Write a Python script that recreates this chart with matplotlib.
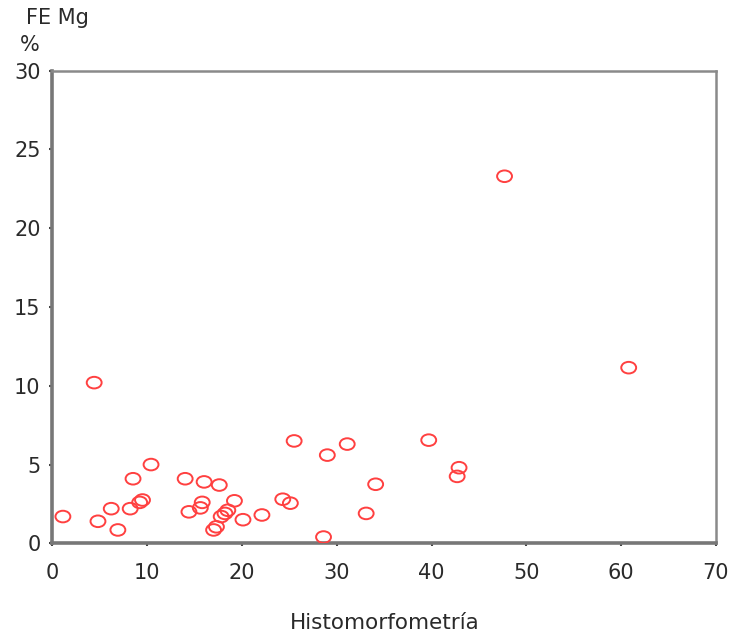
import numpy as np
import matplotlib.pyplot as plt
from matplotlib.path import Path
from matplotlib.transforms import Affine2D

plt.rcParams['font.family'] = ['DejaVu Sans']

# values
histo = [1.1, 4.4, 4.8, 6.2, 6.9, 8.2, 8.5, 9.2, 9.5, 10.4,
         14.0, 14.4, 15.6, 15.8, 16.0, 17.6, 17.0, 17.3, 17.8, 18.2,
         18.5, 19.2, 20.1, 22.1, 24.3, 25.1, 25.5, 29.0, 31.1, 28.6,
         33.1, 34.1, 39.7, 42.9, 42.7, 47.7, 60.8]
fe_mg = [1.7, 10.2, 1.4, 2.2, 0.85, 2.2, 4.1, 2.6, 2.75, 5.0,
         4.1, 2.0, 2.25, 2.6, 3.9, 3.7, 0.85, 1.05, 1.7, 1.9,
         2.1, 2.7, 1.5, 1.8, 2.8, 2.55, 6.5, 5.6, 6.3, 0.4,
         1.9, 3.75, 6.55, 4.8, 4.25, 23.3, 11.15]
xticks = [0, 10, 20, 30, 40, 50, 60, 70]
yticks = [0, 5, 10, 15, 20, 25, 30]

ellipse = Path.unit_circle().transformed(Affine2D().scale(1.0, 0.78))

fig = plt.figure(figsize=(7.35, 6.34), dpi=100)
ax = fig.add_axes([0.0714, 0.143, 0.9026, 0.7455])

ax.scatter(histo, fe_mg, marker=ellipse, s=115, facecolors='none',
           edgecolors='#ff4040', linewidths=1.4, zorder=3)

ax.set_xlim(0, 70)
ax.set_ylim(0, 30)
ax.set_xticks(xticks)
ax.set_yticks(yticks)
ax.tick_params(axis='both', labelsize=15, labelcolor='#2a2a2a', color='#444444',
               length=2.5, width=1.5, direction='out')
ax.tick_params(axis='x', pad=12)
ax.tick_params(axis='y', pad=6)

for side in ['top', 'right']:
    ax.spines[side].set_color('#8a8a8a')
    ax.spines[side].set_linewidth(1.8)
for side in ['left', 'bottom']:
    ax.spines[side].set_color('#777777')
    ax.spines[side].set_linewidth(2.6)

fig.text(0.035, 0.972, 'FE Mg', fontsize=15, color='#2a2a2a', ha='left', va='center')
fig.text(0.027, 0.929, '%', fontsize=15, color='#2a2a2a', ha='left', va='center')
fig.text(0.524, 0.018, 'Histomorfometría', fontsize=15.5, color='#2a2a2a',
         ha='center', va='center')

fig.savefig('out.png', dpi=100)
